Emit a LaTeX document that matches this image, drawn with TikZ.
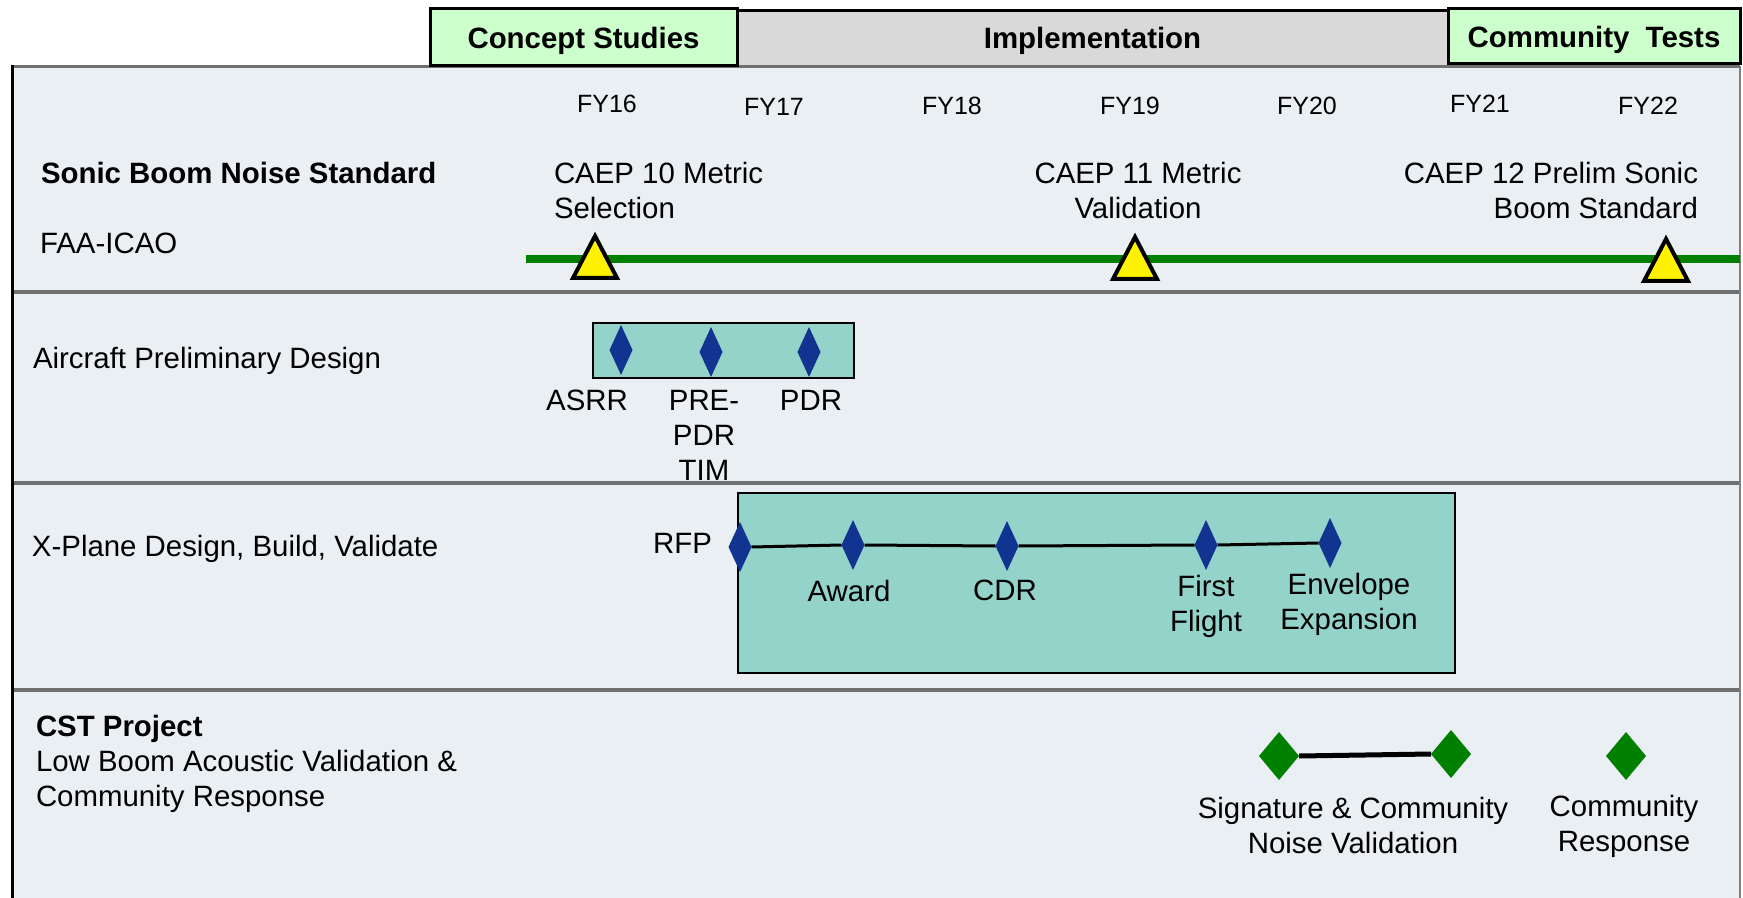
\documentclass[tikz,border=0pt]{standalone}
\usepackage{fontspec}
\setmainfont{Liberation Sans}
\usetikzlibrary{shapes.geometric}

\definecolor{panelbg}{RGB}{234,239,243}
\definecolor{rulegray}{RGB}{112,112,112}
\definecolor{conceptgreen}{RGB}{204,255,204}
\definecolor{implgray}{RGB}{217,217,217}
\definecolor{boxteal}{RGB}{147,211,202}
\definecolor{msblue}{RGB}{18,52,145}
\definecolor{msgreen}{RGB}{0,128,0}

\begin{document}
\fontsize{14.7}{17.5}\selectfont
\begin{tikzpicture}[x=0.5pt,y=-0.5pt,
  every node/.style={inner sep=0pt,outer sep=0pt},
  fy/.style={anchor=north,font=\fontsize{12.5}{15}\selectfont},
  phase/.style={draw=black,line width=1.5pt,font=\bfseries,text depth=0pt},
  rowrule/.style={draw=rulegray,line width=2pt},
  msbox/.style={draw=black,line width=1pt,fill=boxteal},
  bluems/.style={diamond,fill=msblue,minimum width=11.5pt,minimum height=25pt},
  greenms/.style={diamond,fill=msgreen,minimum width=20pt,minimum height=24pt},
  caep/.style={isosceles triangle,isosceles triangle stretches,shape border rotate=90,
    draw=black,line width=2pt,fill=yellow,minimum width=22pt,minimum height=21pt,anchor=apex},
  msline/.style={draw=black,line width=1.5pt}]
\useasboundingbox (0,0) rectangle (1743,898);

\fill[panelbg] (11,66) rectangle (1740,898);
\foreach \y in {292,483,690}
  \draw[rowrule] (11,\y) -- (1740,\y);
\draw[draw=gray,line width=1pt] (1739.5,66) -- (1739.5,898);
\draw[rulegray,line width=1.5pt] (11,66.5) -- (1740,66.5);
\draw[black,line width=1.5pt] (12.5,65) -- (12.5,898);

\node[fill=implgray,font=\bfseries,text depth=0pt,minimum width=355.5pt,minimum height=27pt] (impl) at (1092.5,38) {Implementation};
\draw[black,line width=1.5pt] (impl.north west) -- (impl.north east);
\node[phase,fill=conceptgreen,minimum width=153.5pt,minimum height=28.5pt] (concept) at (583.5,37.5) {Concept Studies};
\node[phase,fill=conceptgreen,minimum width=146pt,minimum height=27.5pt] (community) at (1594,36.5) {Community\ \ Tests};

\foreach \yr/\x/\y in {16/607/95,17/774/98,18/952/97,19/1130/97,20/1307/97,21/1480/95,22/1648/97}
  \node[fy] (fy\yr) at (\x,\y) {FY\yr};

\node[anchor=north west,font=\bfseries] (sbns) at (41,162) {Sonic Boom Noise Standard};
\node[anchor=north west] (faa) at (40,233) {FAA-ICAO};
\node[anchor=north west,align=left] (caep10) at (554,162) {CAEP 10 Metric\\Selection};
\node[anchor=north,align=center] (caep11) at (1138,162) {CAEP 11 Metric\\Validation};
\node[anchor=north east,align=right] (caep12) at (1698,162) {CAEP 12 Prelim Sonic\\Boom Standard};
\coordinate (sbstart) at (526,259);
\coordinate (sbend) at (1740,259);
\draw[msgreen,line width=4pt] (sbstart) -- (sbend);
\node[caep] (tri10) at (595,236) {};
\node[caep] (tri11) at (1135,237) {};
\node[caep] (tri12) at (1666,239) {};

\node[anchor=north west] (apd) at (33,347) {Aircraft Preliminary Design};
\draw[msbox] (593,323) rectangle (854,378);
\node[bluems] (asrrms) at (621,350) {};
\node[bluems] (prepdrms) at (711,352) {};
\node[bluems] (pdrms) at (809,352) {};
\node[anchor=north] (asrr) at (587,390) {ASRR};
\node[anchor=north,align=center] (prepdr) at (704,390) {PRE-\\PDR\\TIM};
\node[anchor=north] (pdr) at (811,390) {PDR};

\node[anchor=north west] (xplane) at (32,535) {X-Plane Design, Build, Validate};
\draw[msbox] (738,493) rectangle (1455,673);
\node[bluems] (rfpms) at (740,547) {};
\node[bluems] (awardms) at (853,545) {};
\node[bluems] (cdrms) at (1007,546) {};
\node[bluems] (firstms) at (1206,545) {};
\node[bluems] (envms) at (1330,543) {};
\draw[msline] (rfpms.east) -- (awardms.west)
  (awardms.east) -- (cdrms.west)
  (cdrms.east) -- (firstms.west)
  (firstms.east) -- (envms.west);
\node[anchor=north east] (rfp) at (712,533) {RFP};
\node[anchor=north] (award) at (849,580) {Award};
\node[anchor=north] (cdr) at (1005,580) {CDR};
\node[anchor=north,align=center] (first) at (1206,575) {First\\Flight};
\node[anchor=north,align=center] (env) at (1349,573) {Envelope\\Expansion};

\node[anchor=north west,align=left] (cst) at (36,715) {\textbf{CST Project}\\Low Boom Acoustic Validation \&\\Community Response};
\node[greenms] (sigms) at (1279,756) {};
\node[greenms] (noisems) at (1451,754) {};
\node[greenms] (respms) at (1626,756) {};
\draw[black,line width=2.5pt] (sigms.east) -- (noisems.west);
\node[anchor=north,align=center] (sig) at (1353,797) {Signature \& Community\\Noise Validation};
\node[anchor=north,align=center] (resp) at (1624,795) {Community\\Response};
\end{tikzpicture}
\end{document}
